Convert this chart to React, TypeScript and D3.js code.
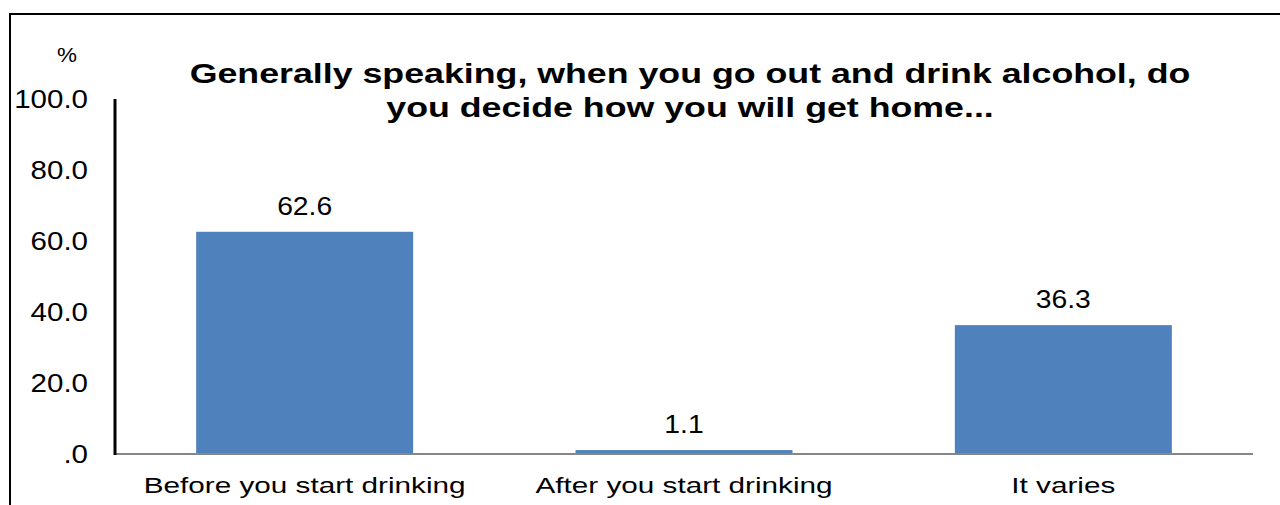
import * as d3 from 'd3'

const categories = ['Before you start drinking', 'After you start drinking', 'It varies']
const values = [62.6, 1.1, 36.3]
const yTicks = [0, 20, 40, 60, 80, 100]
const titleLines = ['Generally speaking, when you go out and drink alcohol, do', 'you decide how you will get home...']

const font = 'Arial, "Liberation Sans", sans-serif'

// the original text is drawn a bit wider than normal, so stretch it horizontally
function WideText({x, y, size, sx, anchor = 'middle', bold = false, children}: {
  x: number, y: number, size: number, sx: number, anchor?: string, bold?: boolean, children: any
}) {
  return (
    <text transform={`translate(${x},${y}) scale(${sx},1)`} textAnchor={anchor} fontSize={size}
          fontWeight={bold ? 'bold' : 'normal'} fill="#000">{children}</text>
  )
}

export default function App() {
  const width = 1280
  const height = 505
  const plotLeft = 115
  const plotRight = 1253
  const plotTop = 99
  const plotBottom = 454

  const x = d3.scaleBand<string>()
    .domain(categories)
    .range([plotLeft, plotRight])
    .paddingInner(0.428)
    .paddingOuter(0.214)
  const y = d3.scaleLinear().domain([0, 100]).range([plotBottom, plotTop])

  const fmt = (v: number) => (v === 0 ? '.0' : v.toFixed(1))

  return (
    <svg width={width} height={height} style={{position: 'absolute', left: 0, top: 0}} fontFamily={font}>
      <rect width={width} height={height} fill="#fff" />
      {/* frame, cut off at right and bottom */}
      <line x1={10} x2={10} y1={13} y2={height} stroke="#000" strokeWidth={2} />
      <line x1={9} x2={width} y1={14} y2={14} stroke="#000" strokeWidth={2} />

      <WideText x={67} y={62} size={21} sx={1.07}>%</WideText>

      {titleLines.map((t, i) => (
        <WideText key={i} x={690} y={82.5 + i * 34.5} size={27.5} sx={1.3} bold>{t}</WideText>
      ))}

      {yTicks.map(t => (
        <WideText key={t} x={88} y={y(t) + 9} size={25} sx={1.18} anchor="end">{fmt(t)}</WideText>
      ))}

      {categories.map((c, i) => (
        <g key={c}>
          <rect x={x(c)} y={y(values[i])} width={x.bandwidth()} height={plotBottom - y(values[i])} fill="#4F81BD" />
          <WideText x={x(c)! + x.bandwidth() / 2} y={y(values[i]) - 17} size={25.5} sx={1.11}>
            {values[i].toFixed(1)}
          </WideText>
          <WideText x={x(c)! + x.bandwidth() / 2} y={493} size={22} sx={1.35}>{c}</WideText>
        </g>
      ))}

      <line x1={plotLeft} x2={plotRight} y1={plotBottom} y2={plotBottom} stroke="#868686" strokeWidth={2} />
      <line x1={plotLeft} x2={plotLeft} y1={plotTop} y2={plotBottom + 1} stroke="#000" strokeWidth={3} />
    </svg>
  )
}
